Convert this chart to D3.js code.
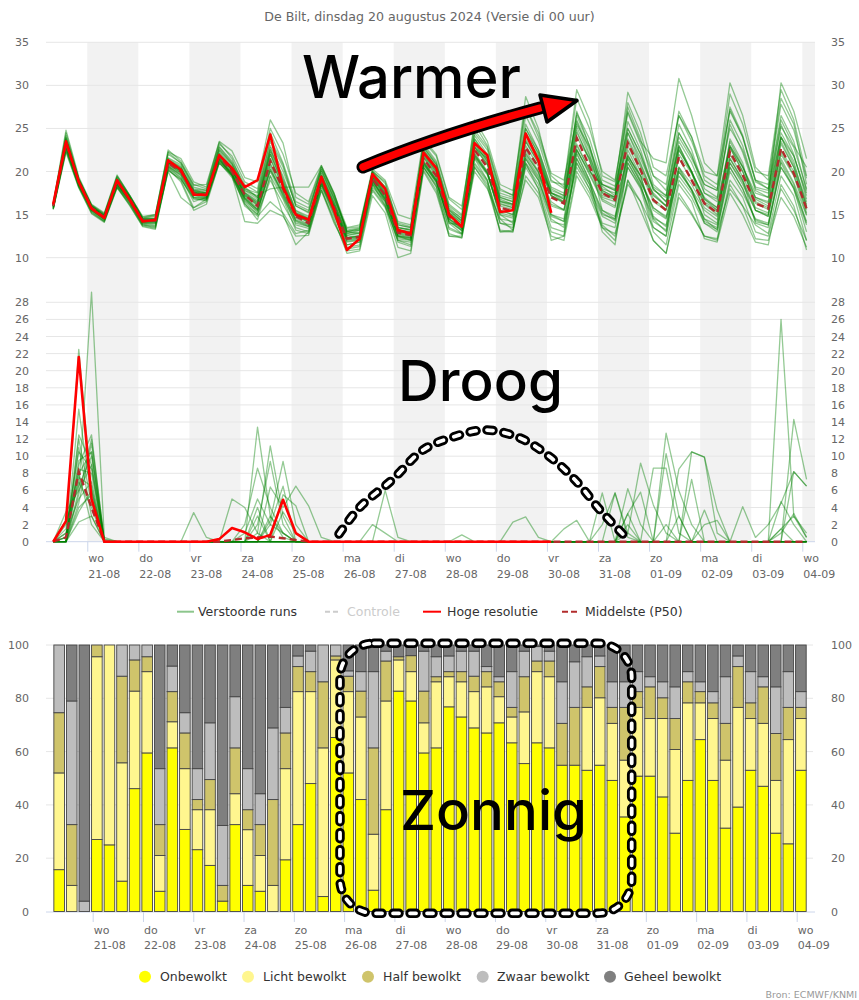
<!DOCTYPE html>
<html><head><meta charset="utf-8">
<script src="https://cdn.jsdelivr.net/npm/d3@7/dist/d3.min.js"></script>
<style>
body{margin:0;background:#fff}
svg{display:block;font-family:"DejaVu Sans",sans-serif}
.big{font-family:Inter,"Noto Sans",sans-serif;font-weight:500}
</style></head>
<body><svg id="c" width="859" height="1000"></svg>
<script>
// ---------------- DATA ----------------
const titleText = "De Bilt, dinsdag 20 augustus 2024 (Versie di 00 uur)";
const dayNames = ["wo","do","vr","za","zo","ma","di","wo","do","vr","za","zo","ma","di","wo"];
const dayLabels = ["21-08","22-08","23-08","24-08","25-08","26-08","27-08","28-08","29-08","30-08","31-08","01-09","02-09","03-09","04-09"];
const tempTicks = [10,15,20,25,30,35];
const precTicks = [0,2,4,6,8,10,12,14,16,18,20,22,24,26,28];
const cloudTicks = [0,20,40,60,80,100];

// temperature: high resolution run (6-hourly from 20-08 08h)
const tempHiRes = [16.2,23.5,18.8, 15.7,14.6,19.0,16.7, 14.2,14.4,21.3,20.2, 17.3,17.3,21.9,20.4, 18.2,19.0,24.3,18.2, 15.0,14.4,19.4,15.5, 10.9,12.2,19.7,18.0, 13.2,12.8,22.2,20.4, 15.0,13.6,23.3,21.9, 15.3,15.5,24.4,21.3, 15.2];
const tempMedian = [16.0,23.3,18.8, 15.8,14.7,18.8,16.8, 14.3,14.3,21.0,20.0, 17.5,17.2,21.8,20.0, 17.3,16.0,21.2,18.0, 14.8,14.0,19.0,15.8, 12.2,12.4,19.2,17.2, 12.9,12.6,21.5,19.5, 14.8,13.6,22.5,20.5, 15.8,15.4,22.8,20.5, 17.0,16.3,23.9,20.6, 17.5,16.7,23.3,20.2, 16.7,15.5,21.7,19.0, 16.3,15.2,22.3,19.6, 16.3,15.7,22.7,19.8, 15.7];
const tempMembers = [
[16.3,24.5,19.2, 16.0,15.0,19.3,17.1, 14.6,14.8,22.0,21.0, 18.2,17.8,22.9,21.2, 18.5,17.6,24.5,21.0, 16.5,15.8,20.2,17.0, 13.2,13.5,20.1,18.6, 14.2,13.8,23.5,21.8, 16.8,15.6,25.5,23.0, 18.0,17.2,27.5,24.0, 19.5,18.2,28.5,25.0, 20.0,19.0,27.0,23.5, 21.5,21.0,30.8,26.5, 21.0,19.5,27.0,24.0, 19.0,18.0,26.0,23.0, 20.5],
[15.6,22.4,18.2, 15.2,14.2,18.2,16.3, 13.8,13.5,20.2,19.0, 15.8,16.5,21.0,19.6, 16.0,14.8,16.5,15.2, 12.8,13.2,18.0,14.2, 10.8,11.0,17.8,15.8, 11.2,10.8,20.2,17.8, 12.8,12.3,20.5,18.5, 13.2,13.0,19.5,17.5, 13.0,12.5,20.0,17.5, 13.8,12.5,19.0,16.5, 12.0,10.5,17.5,15.2, 12.5,12.0,18.5,16.0, 12.2,12.0,17.0,14.8, 11.2],
[16.0,23.8,19.0, 15.9,14.8,19.1,17.0, 14.5,14.6,21.5,20.6, 17.2,17.6,22.5,20.8, 17.8,16.8,22.8,19.2, 15.5,14.8,19.8,16.5, 12.8,13.2,19.9,17.8, 13.5,13.2,22.8,20.8, 15.6,14.6,24.2,22.0, 17.2,16.8,26.5,23.5, 18.8,18.5,29.5,26.0, 19.5,18.8,28.0,24.5, 19.5,17.8,27.0,24.0, 20.0,19.5,30.3,26.5, 20.5,19.0,28.5,25.5, 18.5],
[16.1,23.5,18.9, 15.9,14.8,18.9,16.9, 14.4,14.4,21.2,20.2, 17.6,17.3,22.0,20.3, 17.5,16.3,22.0,18.5, 15.0,14.3,19.3,16.0, 12.4,12.6,19.5,17.4, 13.1,12.8,22.0,20.0, 15.2,14.0,23.3,21.2, 16.3,15.8,23.8,21.4, 17.6,16.8,25.2,21.8, 18.3,17.2,24.5,21.0, 17.3,16.0,22.8,19.8, 17.0,15.8,23.5,20.6, 17.0,16.3,24.0,20.8, 16.5],
[15.9,23.0,18.6, 15.6,14.5,18.6,16.6, 14.1,14.1,20.7,19.7, 17.2,16.9,21.5,19.6, 16.8,15.6,20.2,17.3, 14.3,13.7,18.6,15.4, 11.8,12.0,18.8,16.8, 12.5,12.2,20.8,18.8, 14.2,13.1,21.6,19.6, 15.2,14.8,21.8,19.5, 16.2,15.6,22.6,19.6, 16.6,15.8,22.0,19.0, 15.8,14.6,20.5,17.9, 15.5,14.4,21.0,18.5, 15.5,15.0,21.5,18.7, 14.9],
[15.8,22.8,18.4, 15.4,14.3,18.4,16.5, 14.0,13.8,20.0,17.0, 15.8,16.8,21.2,19.8, 16.5,15.0,19.0,16.2, 13.5,13.0,18.3,14.8, 11.5,11.8,18.2,16.5, 12.0,11.5,21.0,19.0, 14.0,12.8,22.0,20.0, 14.5,14.2,22.0,20.0, 15.0,14.5,24.0,21.5, 15.5,14.5,22.5,19.5, 14.5,13.0,20.0,18.0, 14.2,13.5,21.5,19.0, 14.0,13.5,21.0,18.0, 13.0],
[16.2,24.2,19.1, 16.1,15.0,19.4,17.2, 14.6,14.9,22.3,21.5, 18.8,18.2,23.5,22.4, 19.3,18.8,26.0,23.3, 17.0,16.2,20.5,17.4, 13.0,13.4,20.0,18.8, 13.8,13.5,22.5,20.5, 15.5,14.3,23.8,21.8, 16.8,16.2,25.0,22.0, 17.5,16.5,23.0,20.2, 17.0,16.5,21.5,18.8, 15.8,14.8,20.5,18.5, 15.8,14.8,21.0,18.8, 15.5,14.8,22.5,20.0, 16.0],
[15.7,22.6,18.3, 15.5,14.4,18.3,16.2, 13.8,13.6,20.5,19.3, 16.5,17.0,21.8,20.5, 17.8,17.2,18.0,18.2, 18.2,18.2,20.7,17.5, 13.0,12.8,19.0,16.5, 12.5,12.0,21.2,19.0, 14.0,13.8,22.8,21.5, 17.0,16.5,23.5,21.0, 17.5,17.0,22.5,20.0, 18.5,17.8,21.8,19.5, 17.5,16.0,23.5,21.0, 17.5,16.5,23.0,20.5, 17.0,16.5,24.5,21.8, 17.2],
[16.0,23.1,18.7, 15.7,14.6,18.7,16.7, 14.2,14.2,20.8,19.9, 17.3,17.0,21.6,19.8, 16.8,15.2,20.5,17.2, 13.8,13.4,18.5,15.2, 11.0,11.3,18.5,16.0, 12.0,11.8,20.5,18.5, 13.5,12.8,21.0,19.0, 14.0,13.5,19.0,17.0, 12.5,12.0,19.5,17.0, 13.5,12.8,18.5,16.5, 13.5,12.5,19.0,17.0, 14.0,13.0,18.0,16.0, 13.8,12.8,19.5,17.2, 12.0],
[16.1,23.6,19.0, 16.0,14.9,19.0,17.0, 14.5,14.5,21.4,20.4, 17.8,17.5,22.3,20.6, 17.6,16.6,22.5,19.5, 15.4,14.6,19.6,16.4, 12.8,13.0,19.8,18.0, 13.8,13.5,23.0,21.0, 16.0,14.8,24.8,22.8, 17.8,17.3,28.7,25.0, 19.0,18.0,26.5,23.0, 18.5,18.0,29.2,25.8, 20.5,19.5,26.5,23.5, 19.5,18.5,29.0,25.5, 20.0,19.5,29.5,26.0, 19.5],
[15.9,23.4,18.8, 15.8,14.7,18.9,16.8, 14.3,14.3,21.0,20.1, 17.6,17.2,21.7,20.0, 17.0,15.8,21.0,17.8, 14.6,13.9,19.1,15.9, 12.3,12.5,19.3,17.0, 12.8,12.5,21.6,19.4, 14.6,13.4,22.2,20.0, 15.5,15.0,22.2,19.8, 16.5,15.5,22.5,19.8, 16.8,16.0,24.5,21.5, 18.0,16.5,23.0,20.0, 16.8,15.5,21.5,19.0, 15.8,15.2,23.2,20.5, 15.2],
[15.6,22.2,18.1, 15.1,14.1,18.1,16.1, 13.6,13.3,20.1,19.1, 16.9,16.6,21.1,19.3, 16.3,14.4,19.5,16.8, 13.2,12.8,17.8,14.5, 10.5,10.8,17.2,15.2, 10.0,10.5,20.0,17.5, 12.5,12.5,20.5,18.2, 13.0,13.2,20.5,18.0, 13.5,13.0,21.5,18.5, 14.0,13.5,20.5,18.0, 13.0,11.5,18.5,16.5, 12.2,11.8,17.5,15.0, 11.8,11.5,18.5,16.0, 10.9],
[16.2,23.9,19.1, 16.0,14.9,19.2,17.1, 14.5,14.6,21.6,20.8, 18.0,17.8,22.8,21.0, 18.0,17.0,23.0,20.0, 16.2,15.5,20.0,16.8, 13.4,13.6,20.0,18.2, 14.0,13.6,22.5,20.5, 15.8,14.5,23.5,21.5, 17.0,16.5,25.5,22.5, 18.2,17.5,25.8,22.0, 17.2,16.8,25.8,22.5, 18.0,16.5,24.0,21.5, 18.5,17.8,25.0,22.5, 18.2,17.8,25.2,22.8, 18.0],
[15.7,22.5,18.2, 15.3,14.2,18.2,16.0, 13.7,13.4,20.3,18.8, 15.5,16.2,21.0,19.5, 14.2,14.0,15.5,14.8, 12.5,12.6,17.8,14.0, 11.2,11.5,18.0,16.0, 12.2,12.0,20.8,18.8, 14.4,13.2,21.8,19.8, 15.5,15.0,22.5,20.0, 16.0,15.5,21.5,18.8, 15.5,14.8,21.8,19.5, 14.8,13.6,22.0,19.8, 16.2,15.0,22.8,20.0, 16.5,15.8,22.0,19.5, 15.0],
[16.0,23.2,18.9, 15.8,14.8,18.7,16.9, 14.4,14.2,21.1,20.3, 17.8,17.5,22.0,20.2, 17.2,16.2,22.5,19.0, 15.2,14.5,19.5,16.2, 12.6,12.8,19.4,17.4, 13.2,13.0,22.0,20.0, 15.2,14.0,23.0,21.0, 16.5,16.0,24.2,21.8, 17.5,16.8,24.8,21.2, 17.8,17.0,23.8,20.8, 17.2,16.0,23.0,20.0, 16.8,15.8,22.8,20.0, 16.8,16.0,23.5,20.5, 16.2],
[15.8,23.0,18.5, 15.6,14.6,18.5,16.5, 14.0,14.0,20.6,19.5, 17.0,16.8,21.4,19.5, 16.6,15.4,20.0,17.0, 14.0,13.6,18.8,15.6, 12.0,12.2,18.8,16.8, 12.5,12.3,21.0,19.0, 14.2,13.2,21.8,19.8, 15.0,14.6,21.0,19.0, 15.0,14.2,21.0,18.5, 15.0,14.5,21.5,18.8, 15.5,14.5,19.5,17.5, 14.5,13.2,20.5,18.0, 14.2,13.8,20.5,18.0, 13.8],
[16.1,23.7,19.0, 15.9,14.8,19.0,16.9, 14.4,14.5,21.3,20.5, 17.9,17.6,22.6,20.9, 18.2,17.0,23.8,20.8, 16.0,15.2,20.2,16.8, 13.0,13.2,19.6,17.6, 13.5,13.2,23.2,21.2, 16.2,15.0,26.0,23.5, 18.5,17.8,27.5,24.5, 19.8,19.0,26.0,22.5, 18.0,17.5,26.8,23.2, 19.5,18.5,26.5,24.0, 19.0,18.0,27.5,24.2, 19.0,18.5,27.8,24.8, 19.2],
[15.9,23.1,18.6, 15.7,14.6,18.6,16.7, 14.2,14.2,20.9,19.8, 17.4,17.1,21.6,19.8, 17.0,15.6,20.8,17.6, 14.4,13.8,18.8,15.5, 12.1,12.3,19.0,17.0, 12.7,12.4,21.2,19.2, 14.5,13.5,22.0,19.8, 15.0,14.0,21.5,19.0, 14.5,13.5,21.0,18.0, 13.5,12.0,19.0,15.5, 12.0,10.5,17.0,15.0, 12.5,12.2,19.0,17.0, 13.0,12.5,18.0,15.5, 12.0],
[16.0,23.3,18.8, 15.8,14.7,18.8,16.8, 14.3,14.3,21.1,20.0, 17.5,17.3,21.9,20.1, 17.4,16.1,21.5,18.2, 14.9,14.1,19.2,15.9, 12.3,12.5,19.3,17.3, 13.0,12.7,21.8,19.8, 15.0,13.8,22.8,20.8, 16.2,15.8,23.0,20.6, 17.2,16.5,23.2,20.2, 17.6,16.8,23.0,20.0, 16.5,15.5,21.5,19.0, 16.3,15.3,22.0,19.4, 16.3,15.6,22.3,19.6, 15.6],
[16.2,24.0,19.2, 16.1,15.1,19.5,17.2, 14.7,15.0,22.5,21.2, 18.5,18.0,23.2,21.8, 18.8,18.0,25.0,22.0, 17.5,16.5,20.7,17.4, 13.5,13.8,20.3,19.0, 15.0,14.5,23.8,22.0, 17.0,16.0,24.5,22.5, 17.5,17.0,25.0,22.5, 18.0,17.2,26.8,23.8, 19.0,18.3,25.0,22.0, 17.8,17.0,24.5,22.0, 17.5,16.8,26.0,23.0, 18.0,17.5,24.0,21.8, 17.5],
[15.7,22.7,18.4, 15.5,14.4,18.4,16.4, 13.9,13.7,20.4,19.2, 16.8,16.7,21.3,19.6, 16.2,15.0,19.5,15.0, 11.5,13.0,18.5,15.0, 11.5,11.8,18.6,16.2, 11.8,11.3,20.5,18.3, 13.3,12.7,20.8,18.8, 14.0,13.8,21.5,19.3, 14.8,14.2,22.2,19.0, 15.2,14.3,21.0,18.3, 14.2,13.2,20.3,17.8, 14.0,13.3,20.0,17.5, 14.5,14.0,21.2,18.5, 14.0],
[16.3,24.8,19.4, 16.2,15.2,19.6,17.2, 14.8,15.0,22.2,21.0, 18.4,18.5,23.4,21.5, 18.0,17.5,23.5,20.5, 16.0,15.3,20.5,17.2, 13.1,13.3,19.8,18.2, 13.5,13.3,22.8,20.8, 15.5,14.3,23.8,21.5, 16.5,16.2,24.5,21.5, 17.2,16.3,27.0,23.0, 17.5,17.0,27.5,23.8, 18.5,17.2,25.5,22.5, 18.0,17.0,25.5,22.2, 17.8,17.0,25.5,22.0, 16.8],
[15.8,22.9,18.5, 15.5,14.5,18.5,16.6, 14.1,14.0,20.6,19.6, 17.0,16.9,21.4,19.7, 16.9,15.5,20.2,17.5, 14.2,13.6,18.7,15.4, 11.9,12.1,18.6,16.6, 12.4,12.1,20.5,18.2, 12.5,12.3,20.0,18.0, 14.5,13.2,20.8,18.5, 14.2,13.8,20.5,18.0, 14.8,14.0,20.5,18.2, 14.6,13.8,20.0,17.8, 14.5,13.8,20.5,18.0, 14.4,13.8,20.5,18.2, 14.2],
[15.9,23.2,18.7, 15.7,14.6,18.8,16.8, 14.3,14.4,21.0,20.0, 17.6,17.4,21.8,20.2, 17.3,16.4,22.0,18.6, 15.0,14.2,19.0,15.8, 12.2,12.4,19.0,16.8, 12.6,12.3,21.0,18.8, 14.5,13.4,21.5,19.0, 13.0,13.0,21.0,18.0, 12.0,12.5,22.0,19.0, 13.0,11.5,21.0,18.5, 13.5,12.5,22.5,20.0, 15.0,14.0,23.8,21.0, 15.5,14.8,24.0,21.2, 15.8],
[16.1,23.6,18.9, 15.9,14.8,19.0,16.9, 14.4,14.4,21.2,20.3, 17.7,17.4,22.1,20.4, 17.5,16.5,22.2,18.8, 15.2,14.5,19.5,16.2, 12.6,12.9,19.6,17.6, 13.3,13.0,22.2,20.2, 15.3,14.2,23.2,21.2, 16.6,16.2,24.5,22.2, 17.8,17.2,25.5,22.8, 18.5,17.8,25.0,22.0, 18.2,17.2,24.5,21.8, 18.5,17.8,27.2,24.0, 18.8,18.0,26.5,23.5, 17.8],
[16.0,23.4,18.8, 15.8,14.7,18.9,16.8, 14.3,14.3,21.1,20.1, 17.5,17.3,21.9,20.2, 17.2,16.0,21.5,18.3, 14.9,14.1,19.1,15.9, 12.3,12.5,19.3,17.2, 12.9,12.6,21.7,19.6, 14.8,13.7,22.8,20.8, 16.0,15.6,23.5,21.0, 17.2,16.4,24.5,21.5, 17.8,17.0,23.5,20.5, 16.8,15.6,22.5,20.0, 16.5,15.5,23.0,20.5, 17.5,17.0,30.3,27.0, 21.5]
];

// precipitation (mm per 6 h)
const precHiRes = [0,2.4,21.6, 5.0,0,0,0, 0,0,0,0, 0,0,0.3,1.6, 1.1,0.3,0.8,4.9, 1.0,0,0,0, 0,0,0,0, 0,0,0,0, 0,0,0,0, 0,0,0,0, 0];
const precMedian = [0,0.5,8.2, 4.0,0,0,0, 0,0,0,0, 0,0,0,0.2, 0.4,0.5,0.6,0.4, 0.2,0,0,0, 0,0,0,0, 0,0,0,0, 0,0,0,0, 0,0,0,0, 0,0,0,0, 0,0,0,0, 0,0,0,0, 0,0,0,0, 0,0,0,0, 0];
const precMembers = [
[0,1.5,10.5, 8.5,0.2,0,0, 0,0,0,0, 0,0,0,0, 2.0,8.6,4.0,1.0, 0,0,0,0, 0,0,0,0, 0,0,0,0, 0,0,0,0, 0,0,0,0, 0,0,0,0, 2.0,5.7,1.0,0, 0,12.7,6.0,2.0, 0,0,0,0, 0,0,1.0,3.3, 0.5],
[0,0.5,22.5, 6.0,0,0,0, 0,0,0,0, 0,0,0,0, 0,13.4,3.0,0.5, 0,0,0,0, 0,0,0,0, 0,0,0,0, 0,0,0,0, 0,0,0,0, 0,0,0,0, 0,0,1.0,9.2, 4.3,1.0,0,0, 0,0,0,0, 0,0,26.0,3.0, 0.5],
[0,3.5,6.0, 29.2,0.5,0,0, 0,0,0,0, 0,0,0,0, 0,1.0,11.2,3.0, 0,0,0,0, 0,0,0,0, 0,0,0,0, 0,0,0,0, 0,0,0,0, 0,0,0,0, 0,0,0,0, 0,0,0,10.5, 9.9,1.0,0,0, 0,0,0,14.3, 7.3],
[0,0,12.5, 9.0,0,0,0, 0,0,0,0, 3.4,0.5,0,0, 0,0,2.5,9.4, 2.0,0,0,0, 0,0,0,0, 0,0,0,0, 0,0,0,0, 0,0,0,0, 0,0,0,0, 0,0,0,0, 0,10.3,3.0,0, 0,0,0,0, 0,0,0,8.2, 6.5],
[0,2.0,8.0, 10.5,0,0,0, 0,0,0,0, 0,0,0,5.0, 4.0,1.0,0,0, 0,0,0,0, 0,0,0,6.0, 0.5,0,0,0, 0,0,0,0, 0,0,0,0, 0,0,0,0, 0,0,0,0, 8.6,8.6,1.0,0, 0,0,0,0, 0,0,0,0, 0],
[0,1.0,5.0, 7.0,0,0,0, 0,0,0,0, 0,0,0,0, 0,0,6.4,4.0, 6.5,4.2,0.5,0, 0,0,0,0, 0,0,0,0, 0,0,0,0, 0,2.3,2.9,0.5, 0,0,0,0, 0,0,3.3,5.8, 0,0,0,0, 0,0,0,0, 0,0,4.7,2.0, 0],
[0,0,4.0, 5.5,0,0,0, 0,0,0,0, 0,0,0,0, 0,0,0,0, 0,0,0,0, 0,0,2.0,1.0, 0,0,0,0, 0,0,0,0, 0,0,0,0, 0,0,0,0, 0,5.7,0.5,0, 0,0,0,7.3, 0,0,0,0, 0,0,1.5,3.0, 1.0],
[0,0.5,9.0, 12.5,0,0,0, 0,0,0,0, 0,0,0,0, 1.0,5.0,2.0,6.5, 0,0,0,0, 0,0,0,0, 0,0,0,0, 0,0,0,0, 0,0,0,0, 0,1.5,2.5,0, 0,0,6.2,2.0, 0,0,8.5,10.5, 9.9,3.7,0,0, 0,0,0,0, 0],
[0,1.0,7.0, 4.0,0,0,0, 0,0,0,0, 0,0,0,0, 0,0,0,3.5, 1.0,0,0,0, 0,0,0,0, 0,0,0,0, 0,0,0,0, 0,0,0,0, 0,0,0,0, 0,0,0,0, 0,0,0,0, 0,0,0,4.1, 0.5,2.0,4.5,8.2, 6.5],
[0,0,3.5, 6.0,0,0,0, 0,0,0,0, 0,0,0,0, 0,2.0,9.4,2.0, 0,0,0,0, 0,0,0,0, 0,0,0,0, 0,0.8,0,0, 0,0,0,0, 0,0,0,0, 0,0,3.3,0, 0,0,0,0, 3.7,0,0,0, 0,0,0,0, 0],
[0,0,11.0, 3.0,0,0,0, 0,0,0,0, 0,0,0,0, 0,4.0,0,5.5, 4.2,0,0,0, 0,0,0,0, 0,0,0,0, 0,0,0,0, 0,0,0,0, 0,0,0,0, 0,0,2.0,0, 0,0,3.0,0, 0,0,0,0, 0,0,1.5,0, 0],
[0,2.5,6.5, 10.0,0,0,0, 0,0,0,0, 0,0,0,0, 0,0,0,0, 0,0,0,0, 0,0,0,0, 0,0,0,0, 0,0,0,0, 0,0,0,0, 0,0,0,0, 5.7,0,0,0, 0,0,0,0, 0,0,0,0, 0,0,0,0, 0],
[0,0,15.5, 5.0,0,0,0, 0,0,0,0, 0,0,0,0, 0,0,3.0,1.0, 0,0,0,0, 0,0,0,0, 0,0,0,0, 0,0,0,0, 0,0,0,0, 0,0,0,0, 0,0,0,0, 0,0,0,0, 2.0,2.5,0,0, 0,0,0,0, 0],
[0,0,2.3, 3.0,0,0,0, 0,0,0,0, 0,0,0,0, 0,0,0,0, 0,0,0,0, 0,0,0,0, 0,0,0,0, 0,0,0,0, 0,0,0,0, 0,0,0,0, 0,0,0,0, 0,0,0,0, 0,0,0,0, 0,0,0,0, 0],
[0,0.5,8.5, 8.0,0,0,0, 0,0,0,0, 0,0,0,0, 0,0,0,0, 0,0,0,0, 0,0,0,0, 0,0,0,0, 0,0,0,0, 0,0,0,0, 0,0,0,0, 0,0,0,0, 0,2.0,0,0, 0,0,0,0, 0,0,0,0, 0],
[0,0,5.5, 12.0,0.3,0,0, 0,0,0,0, 0,0,0,0, 0,0,0,0, 0,0,0,0, 0,0,0,0, 0,0,0,0, 0,0,0,0, 0,0,0,0, 0,0,0,0, 0,0,0,0, 0,0,0,0, 0,0,0,0, 0,0,0,0, 0],
[0,0,9.5, 10.5,0,0,0, 0,0,0,0, 0,0,0,0, 0,0,2.0,1.0, 0,0,0,0, 0,0,0,0, 0,0,0,0, 0,0,0,0, 0,0,0,0, 0,0,0,0, 0,0,0,0, 0,0,0,0, 0,0,0,0, 0,0,0,0, 0],
[0,0,7.5, 6.5,0,0,0, 0,0,0,0, 0,0,0,0, 0,3.0,0,0, 0,0,0,0, 0,0,0,0, 0,0,0,0, 0,0,0,0, 0,0,0,0, 0,0,0,0, 0,0,0,0, 0,0,0,0, 0,0,0,0, 0,0,0,0, 0],
[0,0,12.0, 4.5,0,0,0, 0,0,0,0, 0,0,0,0, 0,0,0,0, 0,0,0,0, 0,0,0,0, 0,0,0,0, 0,0,0,0, 0,0,0,0, 0,0,0,0, 0,0,0,0, 0,0,0,0, 0,0,0,0, 0,0,0,0, 0],
[0,0,6.0, 9.0,0,0,0, 0,0,0,0, 0,0,0,0, 0,0,0,0, 0,0,0,0, 0,0,0,0, 0,0,0,0, 0,0,0,0, 0,0,0,0, 0,0,0,0, 0,0,0,0, 0,0,0,0, 0,0,0,0, 0,0,0,0, 0],
[0,0,4.5, 11.5,0,0,0, 0,0,0,0, 0,0,0,0, 0,0,0,0, 0,0,0,0, 0,0,0,0, 0,0,0,0, 0,0,0,0, 0,0,0,0, 0,0,0,0, 0,0,0,0, 0,0,0,0, 0,0,0,0, 0,0,0,0, 0],
[0,0,8.0, 2.0,0,0,0, 0,0,0,0, 0,0,0,0, 0,0,0,0, 0,0,0,0, 0,0,0,0, 0,0,0,0, 0,0,0,0, 0,0,0,0, 0,0,0,0, 0,0,0,0, 0,0,0,0, 0,0,0,0, 0,0,0,0, 0]
];

// cloud cover (% of members)
const cloudKeys = ["Onbewolkt","Licht bewolkt","Half bewolkt","Zwaar bewolkt","Geheel bewolkt"];
const cloudColors = ["#ffff00","#fff68f","#cfc46b","#bdbdbd","#7f7f7f"];
const onbewolkt = [15.7,0,0, 27.0,25.0,11.4,46.1, 59.5,7.6,61.4,30.8, 23.2,17.3,3.9,32.6, 9.8,7.6,0,19.4, 32.6,48.0,5.6,65.3, 52,42,8,38.2, 82.7,79,59.5,61.4, 76.8,73,68.9,67, 70.8,63.3,55.5,63.3, 61.4,54.9,54.9,53, 54.9,49.2,35.5,50.8, 50.8,43,29.4,49.2, 64.5,49.2,31.3,39.2, 53,47,29.4,25.4, 53];
const lichtBewolkt = [36.3,9.8,0, 68.6,75.0,44.4,36.6, 30.5,13.4,9.8,22.8, 15.0,20.9,0,11.6, 20.9,13.4,9.8,34.2, 49.9,34.5,55.8,29.1, 30.5,31,21,40.8, 11.7,11,11.3,24.8, 11.3,13.2,13.6,17.3, 9.8,9.7,19.4,26.7, 26.7,0,0,23.6, 25.3,21.4,21.3,25.8, 21.6,29.4,31.4,29.1, 13.8,23.2,25.5,37.4, 19.4,23.6,19.8,39.1, 19.4];
const halfBewolkt = [22.6,22.8,0, 4.4,0,32.5,11.7, 5.6,11.6,11.3,13.4, 3.8,11.3,5.9,17.2, 7.5,11.6,32.2,13.4, 9.4,7.5,24.8,1.5, 5.8,9.7,32.4,15, 1.2,6,11.9,1.9, 1.9,3.8,5.8,5.7, 5.6,3.6,13.2,4, 5.9,15.7,21.7,7.7, 11.7,6,19.8,5.9, 11.9,7.8,11.6,7.9, 4.2,5.9,13.8,15.3, 5.9,13.7,17.6,12.1, 4.2];
const zwaarBewolkt = [25.4,46.4,3.9, 0,0,11.7,5.6, 4.4,21.0,9.6,7.6, 11.6,21.3,22.5,19.2, 15.4,11.6,26.9,9.6, 4.0,7.7,13.8,4.1, 2,7.3,28.6,3.7, 0,0,15,7.5, 5.9,7.7,9.4,1.9, 1.9,13.4,9.6,5.4, 3.7,15.6,17.1,11.3, 4,9.6,9.6,7.5, 3.8,6,11.9,3.8, 3.7,4.2,17.5,4, 11.7,3.8,17.5,13.4, 5.9];
const geheelBewolkt = [0,21.0,96.1, 0,0,0,0, 0,46.4,7.9,25.4, 46.4,29.2,67.7,19.4, 46.4,55.8,31.1,23.4, 4.1,2.3,0,0, 9.7,10,10,2.3, 4.4,4,2.3,4.4, 4.1,2.3,2.3,8.1, 11.9,10,2.3,0.6, 2.3,13.8,6.3,4.4, 4.1,13.8,13.8,10, 11.9,13.8,15.7,10, 13.8,17.5,11.9,4.1, 10,11.9,15.7,10, 17.5];

// ---------------- DRAW ----------------
const svg = d3.select("#c");
const T0 = Date.UTC(2024,7,20,8);
const times = d3.range(60).map(i => new Date(T0 + i*6*3600*1000));
const dayDates = d3.range(1,16).map(k => new Date(Date.UTC(2024,7,20+k)));
const d0 = new Date(Date.UTC(2024,7,20)), d15 = new Date(Date.UTC(2024,8,4));

const PL = 46, PR = 815;
const xT = d3.scaleUtc().domain([d0,d15]).range([36.2, 802.3]);
const xB = d3.scaleUtc().domain([d0,d15]).range([42.4, 796.7]);
const yT = d3.scaleLinear().domain([10,35]).range([257.7,42.3]);
const yP = d3.scaleLinear().domain([0,28]).range([541.7,302.3]);
const yC = d3.scaleLinear().domain([0,100]).range([911.5,645]);

const labelColor = "#666", gridColor = "#e6e6e6", axisColor = "#ccd6eb";

// title
svg.append("text").attr("x",429.5).attr("y",21).attr("text-anchor","middle")
  .attr("font-size",12.6).attr("fill","#666").text(titleText);

// alternating day bands
const bands = svg.append("g");
[1,3,5,7,9,11,13,15].forEach(k => {
  const a = Math.max(PL, xT(new Date(Date.UTC(2024,7,20+k))));
  const b = Math.min(PR, xT(new Date(Date.UTC(2024,7,21+k))));
  bands.append("rect").attr("x",a).attr("y",42.3).attr("width",b-a).attr("height",541.7-42.3).attr("fill","#f2f2f2");
});

// grids
const grid = svg.append("g").attr("stroke",gridColor).attr("stroke-width",1);
tempTicks.forEach(v => grid.append("line").attr("x1",PL).attr("x2",PR).attr("y1",yT(v)).attr("y2",yT(v)));
precTicks.filter(v=>v>0).forEach(v => grid.append("line").attr("x1",PL).attr("x2",PR).attr("y1",yP(v)).attr("y2",yP(v)));
cloudTicks.filter(v=>v>0).forEach(v => grid.append("line").attr("x1",PL).attr("x2",813).attr("y1",yC(v)).attr("y2",yC(v)));

// y axes
function yAxes(scale, ticks){
  const l = svg.append("g").attr("transform","translate(29,0)")
    .call(d3.axisLeft(scale).tickValues(ticks).tickSize(0).tickPadding(0));
  const r = svg.append("g").attr("transform","translate(831,0)")
    .call(d3.axisRight(scale).tickValues(ticks).tickSize(0).tickPadding(0));
  [l,r].forEach(g => { g.select(".domain").remove();
    g.attr("font-family",null).attr("font-size",null);
    g.selectAll("text").attr("fill",labelColor).style("font-size","11px").style("font-family","'DejaVu Sans', sans-serif"); });
}
yAxes(yT, tempTicks); yAxes(yP, precTicks); yAxes(yC, cloudTicks);

// x axes (middle & bottom)
function xAxis(scale, y, y1, y2){
  const g = svg.append("g").attr("transform",`translate(0,${y})`)
    .call(d3.axisBottom(scale).tickValues(dayDates).tickSize(10).tickFormat(""));
  g.select(".domain").remove();
  g.selectAll("line").attr("stroke",axisColor);
  svg.append("line").attr("x1",PL).attr("x2",PR).attr("y1",y).attr("y2",y).attr("stroke",axisColor);
  dayDates.forEach((d,i) => {
    const t = svg.append("text").attr("font-size",11).attr("fill",labelColor);
    t.append("tspan").attr("x",scale(d)+1).attr("y",y1).text(dayNames[i]);
    t.append("tspan").attr("x",scale(d)+1).attr("y",y2).text(dayLabels[i]);
  });
}
xAxis(xT, 541.7, 562, 577.5);
xAxis(xB, 912, 934, 948.5);

// lines
const lineT = d3.line().x((d,i)=>xT(times[i])).y(d=>yT(d));
const lineP = d3.line().x((d,i)=>xT(times[i])).y(d=>yP(d));
const ens = svg.append("g").attr("fill","none").attr("stroke","#008000").attr("stroke-opacity",0.42).attr("stroke-width",1.3).attr("stroke-linejoin","round");
tempMembers.forEach(m => ens.append("path").attr("d",lineT(m)));
precMembers.forEach(m => ens.append("path").attr("d",lineP(m)));
svg.append("path").attr("d",lineT(tempMedian)).attr("fill","none").attr("stroke","#b22c2c").attr("stroke-width",2.4).attr("stroke-dasharray","7,4");
svg.append("path").attr("d",lineP(precMedian)).attr("fill","none").attr("stroke","#b22c2c").attr("stroke-width",2.4).attr("stroke-dasharray","7,4");
svg.append("path").attr("d",lineT(tempHiRes)).attr("fill","none").attr("stroke","#ff0000").attr("stroke-width",2.6).attr("stroke-linejoin","round");
svg.append("path").attr("d",lineP(precHiRes)).attr("fill","none").attr("stroke","#ff0000").attr("stroke-width",2.6).attr("stroke-linejoin","round");

// top legend
const lg = svg.append("g").attr("font-size",12.5);
function lgItem(x1,x2,tx,label,stroke,dash,op,txtColor){
  lg.append("line").attr("x1",x1).attr("x2",x2).attr("y1",611.7).attr("y2",611.7)
    .attr("stroke",stroke).attr("stroke-width",2).attr("stroke-opacity",op).attr("stroke-dasharray",dash);
  lg.append("text").attr("x",tx).attr("y",616).attr("fill",txtColor).text(label);
}
lgItem(177,194,198,"Verstoorde runs","#008000",null,0.45,"#333");
lgItem(325,341,347,"Controle","#cccccc","5,3",1,"#cccccc");
lgItem(423,441,447,"Hoge resolutie","#ff0000",null,1,"#333");
lgItem(562,578,585,"Middelste (P50)","#b22c2c","6,3",1,"#333");

// cloud bars
const rows = times.map((t,i)=>({t, "Onbewolkt":onbewolkt[i],"Licht bewolkt":lichtBewolkt[i],"Half bewolkt":halfBewolkt[i],"Zwaar bewolkt":zwaarBewolkt[i],"Geheel bewolkt":geheelBewolkt[i]}));
const stack = d3.stack().keys(cloudKeys)(rows);
const bw = 10.6;
stack.forEach((layer,k) => {
  svg.append("g").selectAll("rect").data(layer).join("rect")
    .attr("x",d=>xB(d.data.t)-bw/2).attr("width",bw)
    .attr("y",d=>yC(d[1])).attr("height",d=>Math.max(0,yC(d[0])-yC(d[1])))
    .attr("fill",cloudColors[k]).attr("stroke","#444").attr("stroke-width",0.9);
});

// bottom legend
const lg2 = svg.append("g").attr("font-size",12.5);
[[145,160],[248,263],[368,383],[482.7,497],[610,624]].forEach((p,k)=>{
  lg2.append("circle").attr("cx",p[0]).attr("cy",976.7).attr("r",6).attr("fill",cloudColors[k]);
  lg2.append("text").attr("x",p[1]).attr("y",981).attr("fill","#333").text(cloudKeys[k]);
});
svg.append("text").attr("x",857).attr("y",998).attr("text-anchor","end").attr("font-size",9.5).attr("fill","#999").text("Bron: ECMWF/KNMI");

// ---------------- ANNOTATIONS ----------------
const ann = svg.append("g");
ann.append("text").attr("class","big").attr("x",302).attr("y",98).attr("font-size",59)
  .attr("textLength",219).attr("lengthAdjust","spacingAndGlyphs").attr("fill","#000").text("Warmer");
// arrow
const arrowPath = "M363,167 Q440,135 540,108";
ann.append("path").attr("d",arrowPath).attr("fill","none").attr("stroke","#000").attr("stroke-width",13).attr("stroke-linecap","round");
ann.append("path").attr("d",arrowPath).attr("fill","none").attr("stroke","#ff0000").attr("stroke-width",7.5).attr("stroke-linecap","round");
ann.append("path").attr("d","M540,95 L577,100.5 L547,122 Z").attr("fill","#ff0000").attr("stroke","#000").attr("stroke-width",3.5).attr("stroke-linejoin","round");

ann.append("text").attr("class","big").attr("x",398).attr("y",401).attr("font-size",56)
  .attr("textLength",165).attr("lengthAdjust","spacingAndGlyphs").attr("fill","#000").text("Droog");
ann.append("text").attr("class","big").attr("x",400).attr("y",830).attr("font-size",55)
  .attr("textLength",187).attr("lengthAdjust","spacingAndGlyphs").attr("fill","#000").text("Zonnig");

function chain(sel, d){
  sel.append("path").attr("d",d).attr("fill","none").attr("stroke","#000").attr("stroke-width",9.5)
    .attr("stroke-linecap","round").attr("stroke-dasharray","6,11");
  sel.append("path").attr("d",d).attr("fill","none").attr("stroke","#fff").attr("stroke-width",3.8)
    .attr("stroke-linecap","round").attr("stroke-dasharray","6,11");
}
const arcPts = [[339,534],[360,507],[392,480],[423,450],[453,437],[485,430],[520,438],[550,457],[577,482],[600,510],[622.7,534]];
chain(ann, d3.line().curve(d3.curveCatmullRom)(arcPts));
const rr = d3.path();
(function(p,x,y,w,h,r){p.moveTo(x+r,y);p.lineTo(x+w-r,y);p.arcTo(x+w,y,x+w,y+r,r);p.lineTo(x+w,y+h-r);p.arcTo(x+w,y+h,x+w-r,y+h,r);p.lineTo(x+r,y+h);p.arcTo(x,y+h,x,y+h-r,r);p.lineTo(x,y+r);p.arcTo(x,y,x+r,y,r);p.closePath();})(rr,340,643.3,291.7,270,34);
chain(ann, rr.toString());
</script></body></html>
